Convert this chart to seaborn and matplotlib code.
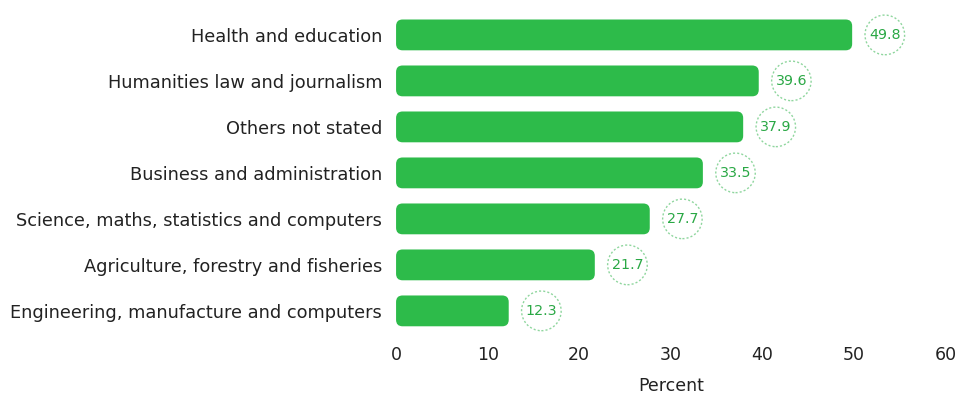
import matplotlib
matplotlib.use("Agg")
import matplotlib.pyplot as plt
from matplotlib.patches import FancyBboxPatch
import seaborn as sns
import pandas as pd

# Share of graduates by field of study (percent)
fields = [
    "Health and education",
    "Humanities law and journalism",
    "Others not stated",
    "Business and administration",
    "Science, maths, statistics and computers",
    "Agriculture, forestry and fisheries",
    "Engineering, manufacture and computers",
]
percent = [49.8, 39.6, 37.9, 33.5, 27.7, 21.7, 12.3]
x_ticks = [0, 10, 20, 30, 40, 50, 60]

BAR_GREEN = "#2dbb4a"
LABEL_GREEN = "#2aa845"
RING_GREEN = "#8fd69e"
TEXT_DARK = "#222222"

sns.set_theme(style="white")
plt.rcParams["font.family"] = ["DejaVu Sans"]

df = pd.DataFrame({"field": fields, "percent": percent})

fig = plt.figure(figsize=(9.59, 3.97), dpi=100)
ax = fig.add_axes([0.413, 0.159, 0.573, 0.811])

sns.barplot(data=df, x="percent", y="field", color=BAR_GREEN,
            saturation=1, width=0.67, ax=ax)

ax.set_xlim(0, 60)
ax.set_ylim(6.5, -0.5)
fig.canvas.draw()

# Swap the square bars for rounded ones
bbox_ax = ax.get_window_extent()
x_per_px = 60 / bbox_ax.width
y_per_px = 7 / bbox_ax.height
radius_px = 6.5
for p in list(ax.patches):
    x0, y0 = p.get_x(), p.get_y()
    w, h = p.get_width(), p.get_height()
    p.remove()
    ax.add_patch(FancyBboxPatch(
        (x0, y0), w, h,
        boxstyle=f"round,pad=0,rounding_size={radius_px * x_per_px}",
        mutation_aspect=y_per_px / x_per_px,
        facecolor=BAR_GREEN, edgecolor="none", zorder=2))

# Value labels inside dotted rings
for i, v in enumerate(percent):
    ax.annotate(f"{v}", xy=(v, i), xytext=(23.5, 0), textcoords="offset points",
                ha="center", va="center", fontsize=10.3, color=LABEL_GREEN,
                bbox=dict(boxstyle="circle,pad=0.28", facecolor="white",
                          edgecolor=RING_GREEN, linestyle=(0, (1.5, 1.5)),
                          linewidth=1.0))

ax.set_xticks(x_ticks)
ax.set_xticklabels([str(t) for t in x_ticks], fontsize=12.5, color=TEXT_DARK)
ax.tick_params(axis="y", labelsize=12.8, labelcolor=TEXT_DARK, length=0, pad=10)
ax.tick_params(axis="x", length=0, pad=9)
ax.set_xlabel("Percent", fontsize=12.5, color=TEXT_DARK, labelpad=9)
ax.set_ylabel("")
for s in ax.spines.values():
    s.set_visible(False)
ax.grid(False)

fig.savefig("out.png", dpi=100, facecolor="white")
